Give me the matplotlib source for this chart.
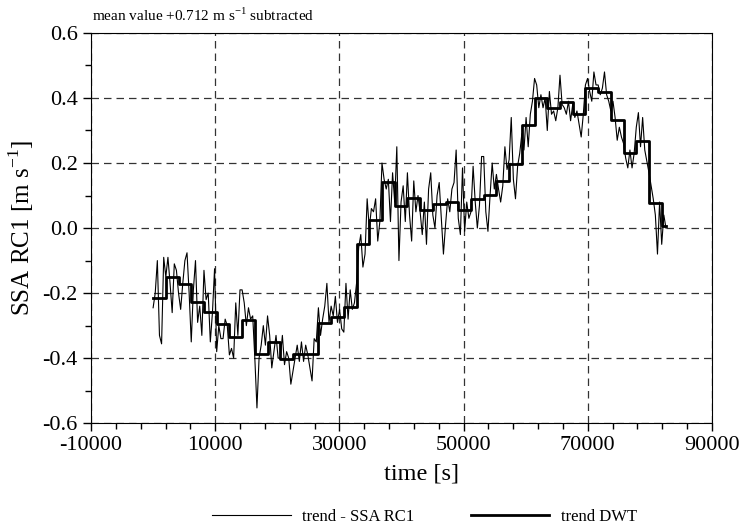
import numpy as np
import matplotlib
matplotlib.use("Agg")
import matplotlib.pyplot as plt
from matplotlib.ticker import MultipleLocator, FormatStrFormatter

plt.rcParams["font.family"] = ["Liberation Serif", "DejaVu Serif"]
plt.rcParams["mathtext.fontset"] = "custom"
plt.rcParams["mathtext.rm"] = "Liberation Serif"
plt.rcParams["axes.unicode_minus"] = False

# DWT trend, one level per 2048 s block
dwt_step = 2048
dwt_levels = [
    -0.214, -0.150, -0.173, -0.227, -0.258, -0.294, -0.334, -0.284, -0.386, -0.350,
    -0.404, -0.386, -0.386, -0.291, -0.274, -0.243, -0.050, 0.024, 0.142, 0.067,
    0.091, 0.055, 0.073, 0.081, 0.055, 0.090, 0.102, 0.145, 0.198, 0.317,
    0.401, 0.368, 0.389, 0.352, 0.432, 0.419, 0.331, 0.232, 0.268, 0.078,
    0.006,
]

# SSA RC1 trend, 6 samples per DWT block
ssa_values = [
    -0.245, -0.20, -0.10, -0.33, -0.356, -0.09,
    -0.15, -0.09, -0.17, -0.26, -0.11, -0.13,
    -0.20, -0.25, -0.17, -0.10, -0.076, -0.20,
    -0.35, -0.19, -0.10, -0.29, -0.24, -0.33,
    -0.13, -0.22, -0.20, -0.35, -0.26, -0.125,
    -0.38, -0.30, -0.34, -0.34, -0.28, -0.30,
    -0.39, -0.37, -0.40, -0.23, -0.33, -0.19,
    -0.19, -0.23, -0.30, -0.245, -0.28, -0.27,
    -0.40, -0.553, -0.40, -0.36, -0.30, -0.36,
    -0.27, -0.33, -0.43, -0.38, -0.33, -0.40,
    -0.40, -0.33, -0.42, -0.38, -0.40, -0.48,
    -0.44, -0.40, -0.36, -0.41, -0.35, -0.41,
    -0.36, -0.39, -0.43, -0.47, -0.34, -0.35,
    -0.245, -0.33, -0.28, -0.24, -0.17, -0.29,
    -0.24, -0.27, -0.21, -0.29, -0.25, -0.31,
    -0.32, -0.17, -0.28, -0.19, -0.25, -0.23,
    -0.17, -0.06, -0.02, -0.12, -0.08, 0.09,
    0.0, 0.06, 0.05, 0.09, -0.04, 0.02,
    0.20, 0.15, 0.12, 0.15, 0.02, 0.17,
    0.08, 0.25, -0.10, 0.08, 0.13, 0.02,
    0.17, 0.04, -0.04, 0.145, 0.05, 0.10,
    0.05, -0.02, 0.08, -0.05, 0.12, 0.17,
    0.04, 0.0, 0.10, 0.14, 0.03, -0.08,
    0.01, 0.09, 0.05, 0.12, 0.14, 0.24,
    0.03, -0.02, 0.185, -0.01, 0.08, 0.03,
    0.05, 0.19, 0.08, 0.0, 0.07, 0.22,
    0.22, 0.05, -0.01, 0.10, 0.20, 0.12,
    0.165, 0.12, 0.08, 0.13, 0.25, 0.18,
    0.21, 0.34, 0.15, 0.09, 0.19, 0.23,
    0.29, 0.24, 0.34, 0.25, 0.35, 0.39,
    0.46, 0.44, 0.37, 0.41, 0.37, 0.40,
    0.30, 0.42, 0.35, 0.36, 0.33, 0.37,
    0.47, 0.38, 0.37, 0.35, 0.39, 0.33,
    0.38, 0.34, 0.36, 0.32, 0.28, 0.35,
    0.44, 0.46, 0.42, 0.39, 0.48, 0.44,
    0.44, 0.41, 0.43, 0.48, 0.41, 0.39,
    0.36, 0.39, 0.34, 0.27, 0.31, 0.28,
    0.26, 0.215, 0.185, 0.24, 0.185, 0.23,
    0.31, 0.355, 0.25, 0.34, 0.24, 0.205,
    0.17, 0.13, 0.09, 0.04, -0.08, 0.08,
    -0.05, 0.04, 0.0,
]

t_ssa = np.arange(len(ssa_values)) * dwt_step / 6.0
t_end = t_ssa[-1]

edges = np.arange(len(dwt_levels)) * dwt_step
t_dwt = np.append(edges, t_end)
y_dwt = np.append(dwt_levels, dwt_levels[-1])

fig = plt.figure(figsize=(7.4, 5.31), dpi=100)
ax = fig.add_axes([0.123, 0.203, 0.839, 0.735])

ax.plot(t_ssa, ssa_values, color="black", lw=0.8, label="trend - SSA RC1")
ax.step(t_dwt, y_dwt, where="post", color="black", lw=2.0, label="trend DWT")

ax.set_xlim(-10000, 90000)
ax.set_ylim(-0.6, 0.6)
ax.xaxis.set_major_locator(MultipleLocator(20000, offset=10000))
ax.xaxis.set_minor_locator(MultipleLocator(4000, offset=2000))
ax.yaxis.set_major_locator(MultipleLocator(0.2))
ax.yaxis.set_minor_locator(MultipleLocator(0.1))
ax.yaxis.set_major_formatter(FormatStrFormatter("%.1f"))
ax.tick_params(which="major", direction="out", length=6, width=1, labelsize=16)
ax.tick_params(which="minor", direction="out", length=4, width=1)
ax.grid(which="major", color="#333333", linestyle=(0, (6, 4)), lw=0.9)

ax.set_xlabel("time [s]", fontsize=17.5, x=0.533, labelpad=6)
ax.set_ylabel("SSA RC1 [m s$^{-1}$]", fontsize=18, labelpad=5)

fig.text(0.124, 0.972, "mean value +0.712 m s$^{-1}$ subtracted", fontsize=11,
         ha="left", va="center")

fig.legend(loc="center", bbox_to_anchor=(0.574, 0.026), ncol=2, frameon=False,
           fontsize=12, handlelength=4.7, columnspacing=3.4, handletextpad=0.7)

fig.savefig("out.png", dpi=100)
